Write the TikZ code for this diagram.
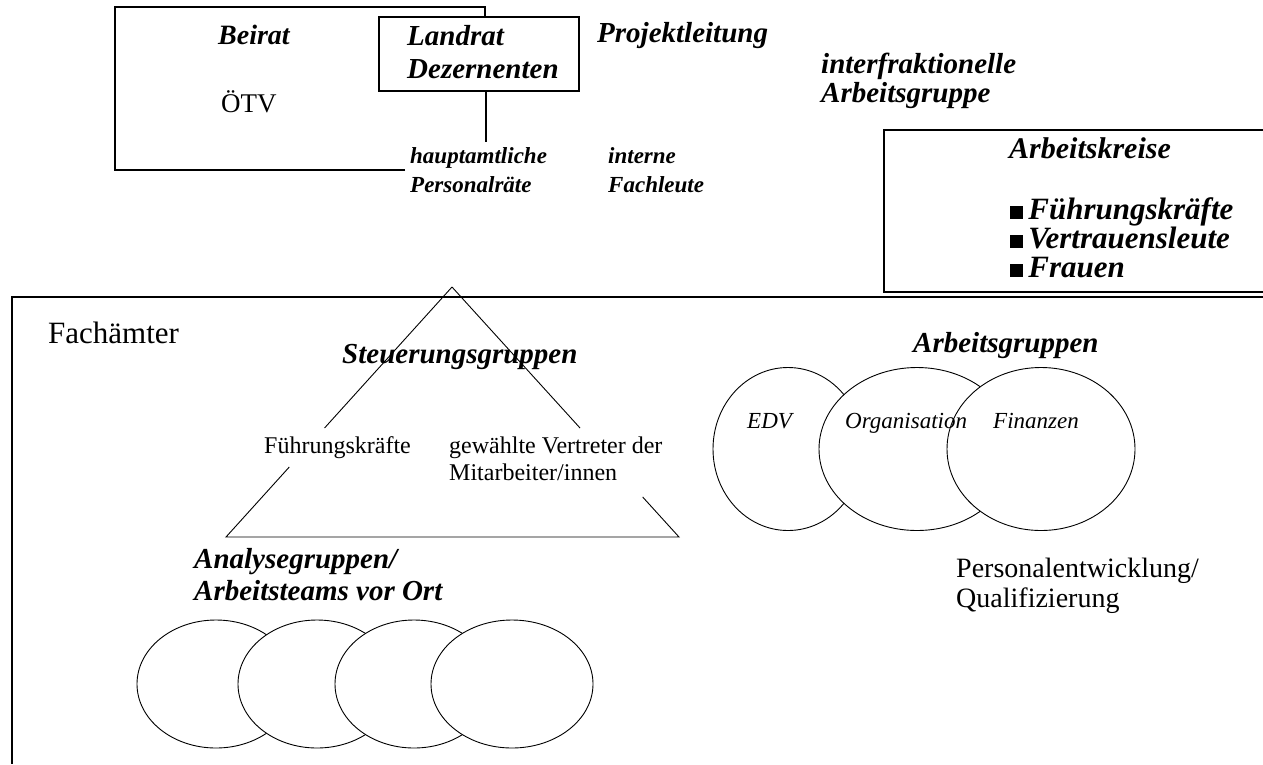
\documentclass[tikz,border=0pt]{standalone}
\usepackage{fontspec}
\setmainfont{Liberation Serif}
\usetikzlibrary{shapes.geometric,calc}

\begin{document}
\begin{tikzpicture}[x=1pt,y=-1pt,
  frame/.style={line width=1.2pt},
  thin line/.style={line width=0.9pt},
  bi/.style={font=\fontsize{#1}{#1}\selectfont\bfseries\itshape, inner sep=0pt, anchor=base west},
  rm/.style={font=\fontsize{#1}{#1}\selectfont, inner sep=0pt, anchor=base west},
  it/.style={font=\fontsize{#1}{#1}\selectfont\itshape, inner sep=0pt, anchor=base west},
  oval/.style={ellipse, draw, fill=white, line width=0.9pt, inner sep=0pt, outer sep=0pt}
]
\useasboundingbox (0,0) rectangle (1263,764);

% --- upper left: Beirat frame and Landrat box
\coordinate (bf1) at (405,170);
\coordinate (bf2) at (115,170);
\coordinate (bf3) at (115,7);
\coordinate (bf4) at (485,7);
\node[draw, frame, minimum width=200pt, minimum height=74pt, inner sep=0pt, outer sep=0pt,
      anchor=north west] (landrat) at (379,17) {};
\draw[frame] (bf1) -- (bf2) -- (bf3) -- (bf4) -- (bf4 |- landrat.north);
\coordinate (stem) at (486,142);
\draw[frame] (landrat.south -| stem) -- (stem);

\node[bi=28] (beirat) at (218,44) {Beirat};
\node[rm=27] (oetv) at (221,112) {ÖTV};
\node[bi=29] (landrat1) at (407,45) {Landrat};
\node[bi=29] (landrat2) at (407,78) {Dezernenten};
\node[bi=29] (projekt) at (597,42) {Projektleitung};
\node[bi=29] (interf1) at (821,73) {interfraktionelle};
\node[bi=29] (interf2) at (821,102) {Arbeitsgruppe};
\node[bi=23] (haupt1) at (410,163) {hauptamtliche};
\node[bi=23] (haupt2) at (410,192) {Personalräte};
\node[bi=23] (intern1) at (608,163) {interne};
\node[bi=23] (intern2) at (608,192) {Fachleute};

% --- Arbeitskreise box, open to the right
\coordinate (ak1c) at (1263,130);
\coordinate (ak2c) at (884,130);
\coordinate (ak3c) at (884,292);
\coordinate (ak4c) at (1263,292);
\draw[frame] (ak1c) -- (ak2c) -- (ak3c) -- (ak4c);
\node[bi=30] (arbk) at (1009,158) {Arbeitskreise};
\node[bi=31] (ak1) at (1010,219) {\rule{13pt}{13pt}\,Führungskräfte};
\node[bi=31] (ak2) at (1010,248) {\rule{13pt}{13pt}\,Vertrauensleute};
\node[bi=31] (ak3) at (1010,277) {\rule{13pt}{13pt}\,Frauen};

% --- Fachämter frame
\coordinate (fa1) at (1263,297);
\coordinate (fa2) at (12,297);
\coordinate (fa3) at (12,764);
\draw[frame] (fa1) -- (fa2) -- (fa3);
\node[rm=31] (fach) at (48,343) {Fachämter};

% --- Steuerungsgruppen triangle
\coordinate (apex) at (452,287);
\coordinate (bl) at (226,537);
\coordinate (br) at (679,537);
\draw[thin line] (apex) -- ($(apex)!0.564!(bl)$);
\draw[thin line] ($(apex)!0.72!(bl)$) -- (bl) -- (br) -- ($(apex)!0.84!(br)$);
\draw[thin line] (apex) -- ($(apex)!0.564!(br)$);
\node[bi=29] (steuer) at (342,363) {Steuerungsgruppen};
\node[rm=24] (fk) at (264,453) {Führungskräfte};
\node[rm=24] (gew1) at (449,453) {gewählte Vertreter der};
\node[rm=24] (gew2) at (449,480) {Mitarbeiter/innen};

% --- Arbeitsgruppen
\node[oval, minimum width=150pt, minimum height=163pt] (edv) at (788,449) {};
\node[oval, minimum width=196pt, minimum height=163pt] (orga) at (917,449) {};
\node[oval, minimum width=188pt, minimum height=163pt] (fin) at (1041,449) {};
\node[bi=29] (arbg) at (913,352) {Arbeitsgruppen};
\node[it=23] (edvt) at (747,428) {EDV};
\node[it=23] (orgt) at (845,428) {Organisation};
\node[it=23] (fint) at (993,428) {Finanzen};

% --- Analysegruppen
\node[bi=29] (ana1) at (194,568) {Analysegruppen/};
\node[bi=29] (ana2) at (194,600) {Arbeitsteams vor Ort};
\node[oval, minimum width=158pt, minimum height=128pt] (team1) at (216,684) {};
\node[oval, minimum width=158pt, minimum height=128pt] (team2) at (317,684) {};
\node[oval, minimum width=158pt, minimum height=128pt] (team3) at (414,684) {};
\node[oval, minimum width=162pt, minimum height=128pt] (team4) at (512,684) {};

% --- Personalentwicklung
\node[rm=28] (pe1) at (956,577) {Personalentwicklung/};
\node[rm=28] (pe2) at (956,607) {Qualifizierung};
\end{tikzpicture}
\end{document}
